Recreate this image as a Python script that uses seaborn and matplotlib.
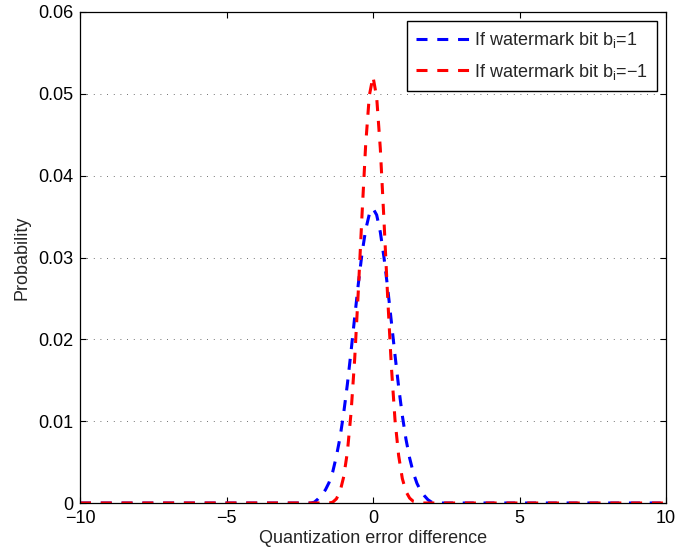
import matplotlib
matplotlib.use("Agg")
import matplotlib.pyplot as plt
import pandas as pd
import seaborn as sns

# Quantization error difference (x) and estimated probabilities per watermark bit
x_vals = [-10, -2.125, -2.0, -1.875, -1.75, -1.625, -1.5, -1.375, -1.25, -1.125,
          -1.0, -0.875, -0.75, -0.625, -0.5, -0.375, -0.25, -0.125, 0.0,
          0.125, 0.25, 0.375, 0.5, 0.625, 0.75, 0.875, 1.0, 1.125, 1.25,
          1.375, 1.5, 1.625, 1.75, 1.875, 2.0, 2.125, 10]

p_bit_pos = [0, 0, 0.0001, 0.0005, 0.0010, 0.0016, 0.0025, 0.0038, 0.0057, 0.0080,
             0.0110, 0.0145, 0.0185, 0.0227, 0.0268, 0.0305, 0.0334, 0.0353, 0.0360,
             0.0352, 0.0331, 0.0300, 0.0263, 0.0222, 0.0181, 0.0142, 0.0107, 0.0078, 0.0055,
             0.0037, 0.0024, 0.0015, 0.0009, 0.0004, 0.0001, 0, 0]

p_bit_neg = [0, 0, 0, 0, 0, 0, 0, 0.0001, 0.0005, 0.0014,
             0.0032, 0.0062, 0.0110, 0.0176, 0.0260, 0.0352, 0.0438, 0.0498, 0.0521,
             0.0496, 0.0433, 0.0345, 0.0252, 0.0168, 0.0102, 0.0058, 0.0030, 0.0014, 0.0006,
             0.0002, 0.0001, 0, 0, 0, 0, 0, 0]

series_labels = ["If watermark bit b$_\\mathregular{i}$=1",
                 "If watermark bit b$_\\mathregular{i}$=\u22121"]
series_colors = ["#0000ff", "#ff0000"]

x_ticks = [-10, -5, 0, 5, 10]
x_tick_labels = ["\u221210", "\u22125", "0", "5", "10"]
y_ticks = [0, 0.01, 0.02, 0.03, 0.04, 0.05, 0.06]
y_tick_labels = ["0", "0.01", "0.02", "0.03", "0.04", "0.05", "0.06"]

sns.set_style("ticks")
plt.rcParams["font.family"] = ["Liberation Sans", "DejaVu Sans"]
plt.rcParams["mathtext.fontset"] = "custom"
plt.rcParams["mathtext.rm"] = "Liberation Sans"

df = pd.DataFrame({
    "x": x_vals * 2,
    "p": p_bit_pos + p_bit_neg,
    "series": [series_labels[0]] * len(x_vals) + [series_labels[1]] * len(x_vals),
})

fig = plt.figure(figsize=(6.76, 5.58), dpi=100)
ax = fig.add_axes([80 / 676, 55 / 558, 586 / 676, 491 / 558])

sns.lineplot(data=df, x="x", y="p", hue="series", hue_order=series_labels,
             palette=series_colors, estimator=None, sort=False,
             linewidth=2.2, ax=ax, legend=False)
for line in ax.lines:
    line.set_linestyle((0, (3.6, 3.2)))

ax.set_xlim(-10, 10)
ax.set_ylim(0, 0.06)
ax.set_xticks(x_ticks)
ax.set_xticklabels(x_tick_labels)
ax.set_yticks(y_ticks)
ax.set_yticklabels(y_tick_labels)

ax.yaxis.grid(True, color="0.25", linestyle=(0, (1, 7)), linewidth=0.6)
ax.xaxis.grid(False)

ax.tick_params(direction="in", length=4, width=0.8, top=True, right=True,
               labelsize=13, pad=5, colors="k")
for sp in ax.spines.values():
    sp.set_visible(True)
    sp.set_linewidth(0.9)
    sp.set_color("k")

ax.set_xlabel("Quantization error difference", fontsize=13, labelpad=2)
ax.set_ylabel("Probability", fontsize=13, labelpad=5)

leg = ax.legend(ax.lines, series_labels, loc="upper right", fontsize=13,
                frameon=True, fancybox=False, edgecolor="k", framealpha=1,
                handlelength=2.95, handletextpad=0.3, borderaxespad=0.5,
                labelspacing=0.65, borderpad=0.5)
leg.get_frame().set_linewidth(1.0)

fig.savefig("out.png", dpi=100)
